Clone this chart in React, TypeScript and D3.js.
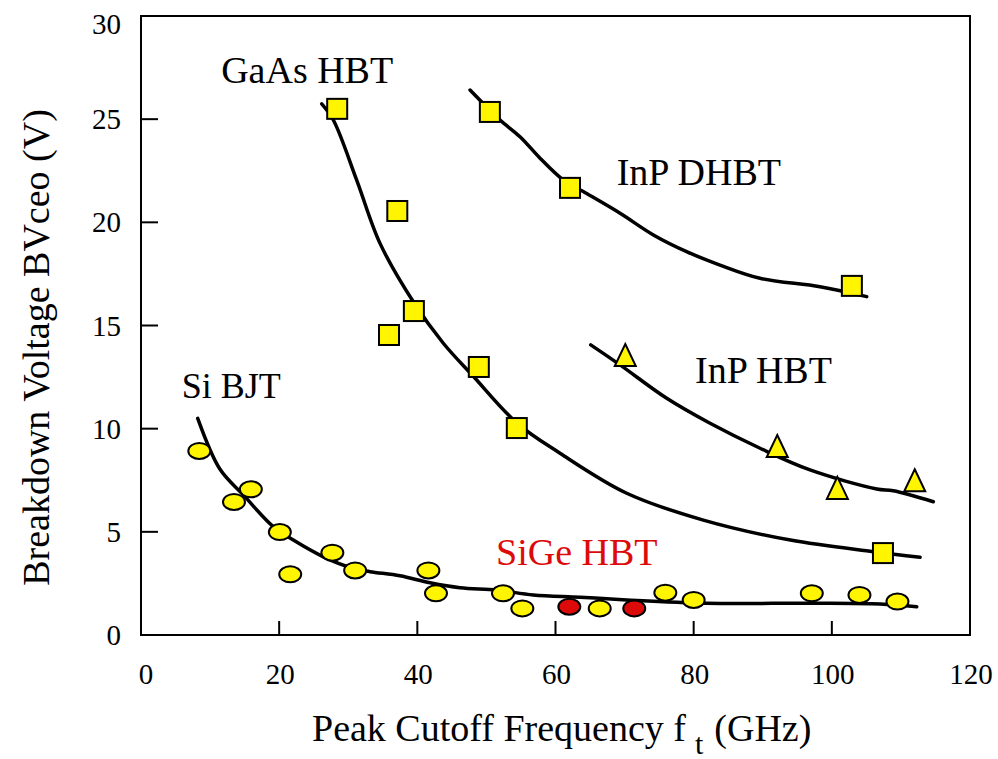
import React from "react";
import * as d3 from "d3";

// ---- data (GHz, V) ----
const xTicks = [0, 20, 40, 60, 80, 100, 120];
const yTicks = [0, 5, 10, 15, 20, 25, 30];

const gaasPoints: [number, number][] = [
  [28.4, 25.5], [37.1, 20.55], [35.9, 14.54], [39.5, 15.7],
  [48.9, 12.99], [54.4, 10.03], [107.4, 3.97],
];
const inpDhbtPoints: [number, number][] = [
  [50.5, 25.35], [62.1, 21.67], [102.9, 16.92],
];
const inpHbtPoints: [number, number][] = [
  [70.1, 13.57], [92.1, 9.16], [100.8, 7.13], [112.0, 7.5],
];
const siBjtPoints: [number, number][] = [
  [8.44, 8.92], [15.9, 7.06], [13.46, 6.45], [20.1, 4.99], [21.6, 2.94],
  [27.7, 3.99], [31.0, 3.13], [41.6, 3.13], [42.7, 2.02], [52.4, 2.02],
  [55.2, 1.29], [66.4, 1.29], [75.9, 2.05], [80.0, 1.7], [97.1, 2.02],
  [104.0, 1.94], [109.5, 1.62],
];
const sigePoints: [number, number][] = [
  [62.0, 1.37], [71.4, 1.29],
];

const gaasCurve: [number, number][] = [
  [26.16, 25.74], [27.84, 24.96], [31.22, 22.05], [34.6, 18.98], [39.42, 16.15],
  [43.76, 14.14], [48.1, 12.54], [54.43, 10.27], [60.65, 8.81], [70.31, 6.87],
  [81.4, 5.57], [94.0, 4.6], [106.0, 4.04], [112.77, 3.77],
];
const inpDhbtCurve: [number, number][] = [
  [47.63, 26.41], [51.97, 24.96], [54.86, 24.15], [57.76, 23.11], [61.13, 22.05],
  [64.02, 21.49], [69.35, 20.44], [74.17, 19.39], [78.98, 18.58], [83.81, 17.93],
  [89.6, 17.29], [98.29, 16.88], [105.05, 16.4],
];
const inpHbtCurve: [number, number][] = [
  [65.1, 14.06], [69.34, 13.09], [76.1, 11.47], [82.37, 10.26], [89.61, 9.05],
  [96.84, 8.0], [106.5, 7.08], [108.9, 6.99], [114.69, 6.46],
];
const siBjtCurve: [number, number][] = [
  [8.21, 10.5], [11.44, 8.03], [14.81, 6.79], [19.15, 5.25], [22.05, 4.6],
  [26.39, 3.79], [30.73, 3.23], [33.15, 3.07], [37.49, 2.87], [41.83, 2.53],
  [46.17, 2.29], [51.49, 2.18], [56.79, 1.94], [63.55, 1.83], [70.31, 1.7],
  [81.89, 1.54], [97.28, 1.54], [106.98, 1.5], [112.29, 1.37],
];

const seriesLabels = ["GaAs HBT", "InP DHBT", "InP HBT", "Si BJT", "SiGe HBT"];

const W = 998;
const H = 759;
const FONT = "Liberation Serif, Times New Roman, serif";
const YELLOW = "#FFF500";
const RED = "#DD0A0A";

export default function App() {
  const x = d3.scaleLinear().domain([0, 120]).range([141, 970]);
  const y = d3.scaleLinear().domain([0, 30]).range([635, 16]);
  const line = d3
    .line<[number, number]>()
    .x((d) => x(d[0]))
    .y((d) => y(d[1]))
    .curve(d3.curveCatmullRom.alpha(0.5));

  const curves = [gaasCurve, inpDhbtCurve, inpHbtCurve, siBjtCurve];
  const labelPos: [number, number, string, number][] = [
    [11.6, 26.75, "#000", 38],
    [68.86, 21.81, "#000", 38],
    [80.2, 12.23, "#000", 38],
    [5.89, 11.49, "#000", 36],
    [51.39, 3.39, RED, 38],
  ];

  const sq = 20;
  const tri = (cx: number, cy: number) => {
    const w = 21, h = 22;
    return `M${cx},${cy - h / 2}L${cx + w / 2},${cy + h / 2}L${cx - w / 2},${cy + h / 2}Z`;
  };
  const ts = { fontFamily: FONT };

  return (
    <svg
      width={W}
      height={H}
      style={{ position: "absolute", left: 0, top: 0, background: "#fff", fontFamily: FONT }}
    >
      <rect x={0} y={0} width={W} height={H} fill="#fff" />
      {/* frame */}
      <rect
        x={x(0)}
        y={y(30)}
        width={x(120) - x(0)}
        height={y(0) - y(30)}
        fill="none"
        stroke="#000"
        strokeWidth={2}
      />
      {/* ticks */}
      {xTicks.slice(1, -1).map((t) => (
        <line key={"xt" + t} x1={x(t)} x2={x(t)} y1={y(0)} y2={y(0) - 14} stroke="#000" strokeWidth={2} />
      ))}
      {yTicks.slice(1, -1).map((t) => (
        <line key={"yt" + t} x1={x(0)} x2={x(0) + 17} y1={y(t)} y2={y(t)} stroke="#000" strokeWidth={2} />
      ))}
      {/* tick labels */}
      {xTicks.map((t) => (
        <text key={"xl" + t} style={ts} x={x(t) + (t === 0 ? 5 : 1)} y={684} textAnchor="middle" fontSize={29}>
          {t}
        </text>
      ))}
      {yTicks.map((t) => (
        <text
          key={"yl" + t}
          style={ts}
          x={121}
          y={Math.max(y(t), 24) + 10}
          textAnchor="end"
          fontSize={29}
        >
          {t}
        </text>
      ))}
      {/* axis titles */}
      <text style={ts} x={312} y={741} fontSize={38}>
        Peak Cutoff Frequency f
        <tspan dx={9} dy={13} fontSize={30}>t</tspan>
        <tspan dx={11} dy={-13}>(GHz)</tspan>
      </text>
      <text
        style={ts}
        transform={`translate(49,${(100 + 595) / 2}) rotate(-90)`}
        textAnchor="middle"
        fontSize={38}
      >
        Breakdown Voltage BVceo (V)
      </text>

      {/* curves */}
      {curves.map((c, i) => (
        <path
          key={"c" + i}
          d={line(c) || ""}
          fill="none"
          stroke="#000"
          strokeWidth={3.5}
          strokeLinecap="round"
          strokeLinejoin="round"
        />
      ))}

      {/* markers */}
      {gaasPoints.concat(inpDhbtPoints).map((p, i) => (
        <rect
          key={"s" + i}
          x={x(p[0]) - sq / 2}
          y={y(p[1]) - sq / 2}
          width={sq}
          height={sq}
          fill={YELLOW}
          stroke="#000"
          strokeWidth={2}
        />
      ))}
      {inpHbtPoints.map((p, i) => (
        <path key={"t" + i} d={tri(x(p[0]), y(p[1]))} fill={YELLOW} stroke="#000" strokeWidth={2} strokeLinejoin="miter" />
      ))}
      {siBjtPoints.map((p, i) => (
        <ellipse key={"e" + i} cx={x(p[0])} cy={y(p[1])} rx={11} ry={8} fill={YELLOW} stroke="#000" strokeWidth={2} />
      ))}
      {sigePoints.map((p, i) => (
        <ellipse key={"r" + i} cx={x(p[0])} cy={y(p[1])} rx={11} ry={8} fill={RED} stroke="#000" strokeWidth={2} />
      ))}

      {/* series labels */}
      {seriesLabels.map((s, i) => (
        <text
          key={"lb" + i}
          style={ts}
          x={x(labelPos[i][0])}
          y={y(labelPos[i][1])}
          fontSize={labelPos[i][3]}
          fill={labelPos[i][2]}
        >
          {s}
        </text>
      ))}
    </svg>
  );
}
